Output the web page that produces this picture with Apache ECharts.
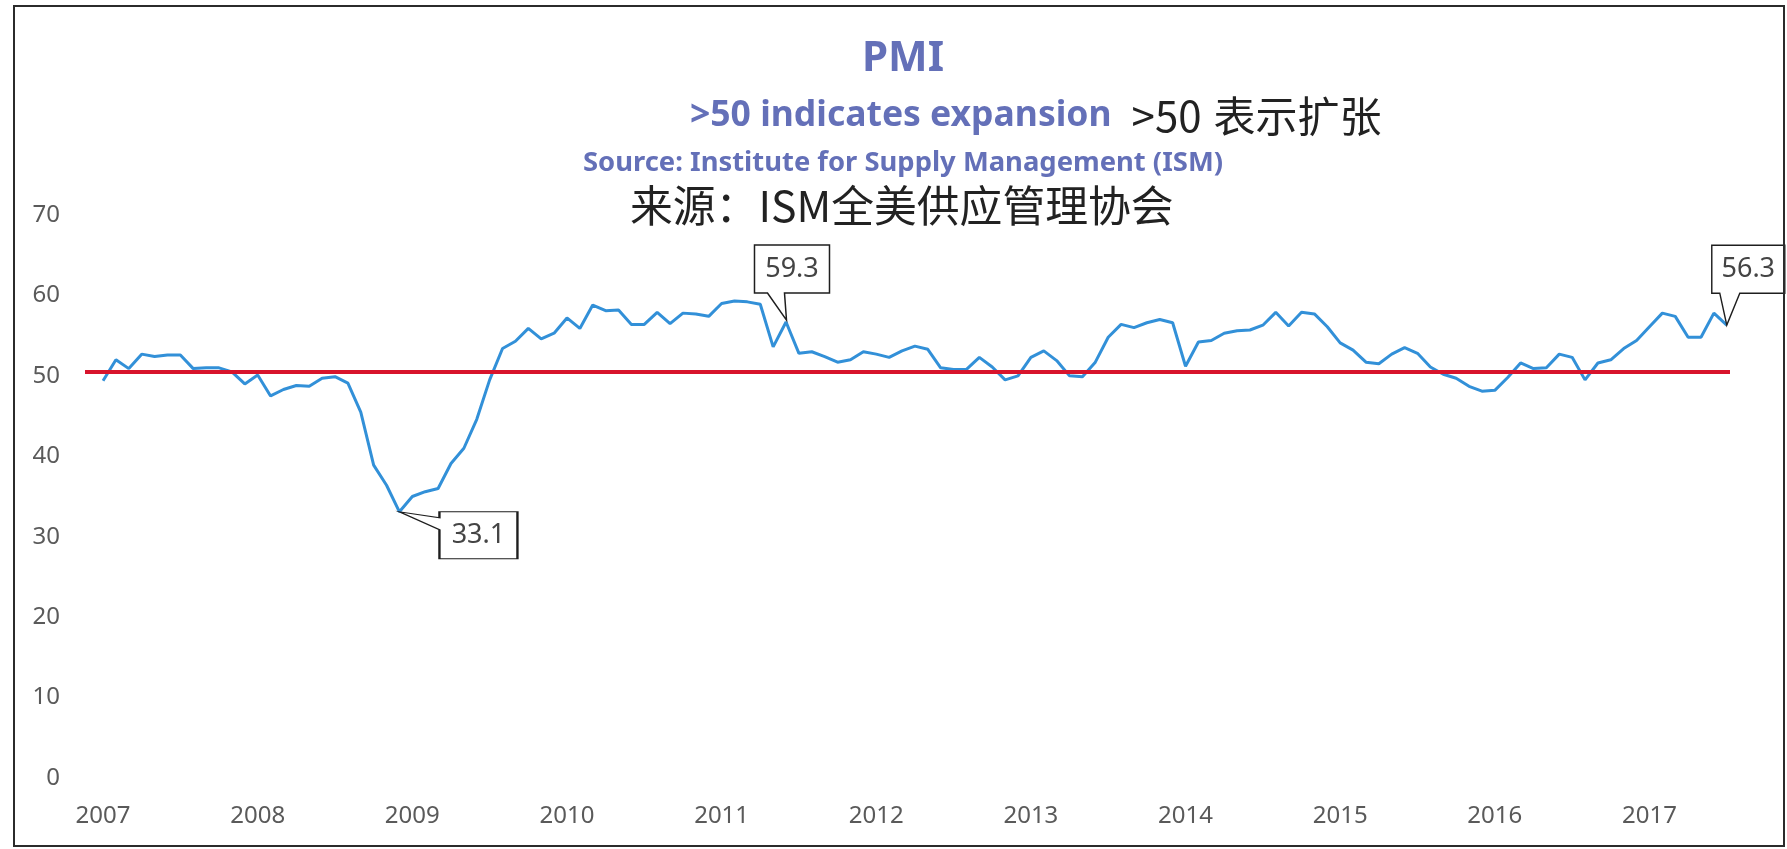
<!DOCTYPE html>
<html lang="zh-CN">
<head>
<meta charset="UTF-8">
<title>PMI</title>
<script src="https://cdn.jsdelivr.net/npm/echarts@6/dist/echarts.min.js"></script>
<style>
html, body { margin: 0; padding: 0; background: #fff; }
#chart { width: 1787px; height: 849px; }
/* 扫描图外框 */
.frame {
  position: absolute; left: 13px; top: 5px; width: 1772px; height: 842px;
  border: 2px solid #2b2b2b; box-sizing: border-box; pointer-events: none;
}
</style>
</head>
<body>
<div id="chart"></div>
<div class="frame"></div>
<script>
// 年份刻度（每年1月）
const yearLabels = ['2007', '2008', '2009', '2010', '2011', '2012', '2013', '2014', '2015', '2016', '2017'];
// ISM 制造业 PMI，2007年1月 - 2017年7月，每行一年
const pmi = [
  49.4, 52.0, 50.9, 52.7, 52.4, 52.6, 52.6, 50.9, 51.0, 51.0, 50.5, 49.0,
  50.1, 47.5, 48.3, 48.8, 48.7, 49.7, 49.9, 49.1, 45.5, 38.9, 36.4, 33.1,
  35.0, 35.6, 36.0, 39.1, 41.0, 44.6, 49.5, 53.4, 54.3, 55.9, 54.6, 55.3,
  57.2, 55.9, 58.8, 58.1, 58.2, 56.4, 56.4, 57.9, 56.5, 57.8, 57.7, 57.4,
  59.0, 59.3, 59.2, 58.9, 53.6, 56.7, 52.8, 53.0, 52.4, 51.7, 52.0, 53.0,
  52.7, 52.3, 53.1, 53.7, 53.3, 51.0, 50.8, 50.8, 52.3, 51.1, 49.5, 50.0,
  52.3, 53.1, 51.9, 50.0, 49.9, 51.7, 54.8, 56.4, 56.0, 56.6, 57.0, 56.6,
  51.2, 54.2, 54.4, 55.3, 55.6, 55.7, 56.3, 57.9, 56.2, 57.9, 57.7, 56.1,
  54.1, 53.2, 51.7, 51.5, 52.7, 53.5, 52.8, 51.1, 50.2, 49.7, 48.7, 48.1,
  48.2, 49.8, 51.6, 50.9, 51.0, 52.7, 52.3, 49.5, 51.6, 52.0, 53.4, 54.4,
  56.1, 57.8, 57.4, 54.8, 54.8, 57.8, 56.3
];
// 红线（50分界，图中略高于50刻度）
const expansionLine = 50.5;

const blue = '#6470b8';
const last = pmi.length - 1;
const lineData = pmi.map((v, i) => [i, v]);

// 标注框形状（含指针），按像素画
const lowPath = 'path://M40 0 L118 0 L118 47 L40 47 L40 18 L0 0 L40 6 Z';
const highPath = 'path://M0 0 L75 0 L75 48 L30 48 L32 75 L13 48 L0 48 Z';
const lastPath = 'path://M0 0 L73 0 L73 48 L28 48 L15 80 L8 48 L0 48 Z';

const chart = echarts.init(document.getElementById('chart'));
chart.setOption({
  animation: false,
  backgroundColor: '#fff',
  title: [
    {
      text: 'PMI', left: 903, top: 37, textAlign: 'center', padding: 0,
      textStyle: { color: blue, fontSize: 42, fontWeight: 'bold', fontFamily: 'Noto Sans', lineHeight: 44 }
    },
    {
      text: '{b|>50 indicates expansion}{g|}{k|>50}{w|}{k|表示扩张}', left: 690, top: 93, padding: 0,
      textStyle: {
        rich: {
          b: { color: blue, fontSize: 35.5, fontWeight: 'bold', fontFamily: 'Noto Sans', lineHeight: 46 },
          g: { width: 20, lineHeight: 46 },
          w: { width: 12, lineHeight: 46 },
          k: { color: '#222', fontSize: 42, fontWeight: 'normal', fontFamily: 'Noto Sans CJK SC', lineHeight: 46 }
        }
      }
    },
    {
      text: 'Source: Institute for Supply Management (ISM)', left: 583, top: 148, padding: 0,
      textStyle: { color: blue, fontSize: 27.4, fontWeight: 'bold', fontFamily: 'Noto Sans', lineHeight: 30 }
    },
    {
      text: '来源：ISM全美供应管理协会', left: 630, top: 183, padding: 0,
      textStyle: { color: '#222', fontSize: 42.8, fontWeight: 'normal', fontFamily: 'Noto Sans CJK SC', lineHeight: 46 }
    }
  ],
  grid: { left: 85, right: 57, top: 215, bottom: 71, outerBoundsMode: 'none' },
  xAxis: {
    type: 'value',
    min: -1.4,
    max: 126.25,
    axisLine: { show: false },
    axisTick: { show: false },
    splitLine: { show: false },
    axisLabel: {
      customValues: yearLabels.map((y, i) => i * 12),
      formatter: v => yearLabels[Math.round(v / 12)],
      color: '#5a5a5a', fontSize: 24, fontFamily: 'Noto Sans', margin: 26
    }
  },
  yAxis: {
    type: 'value',
    min: 0,
    max: 70,
    interval: 10,
    axisLine: { show: false },
    axisTick: { show: false },
    splitLine: { show: false },
    axisLabel: { color: '#5a5a5a', fontSize: 24, fontFamily: 'Noto Sans', margin: 25 }
  },
  series: [
    {
      name: 'PMI',
      type: 'line',
      data: lineData,
      showSymbol: false,
      lineStyle: { color: '#3290d8', width: 3 },
      markLine: {
        silent: true,
        symbol: 'none',
        label: { show: false },
        lineStyle: { color: '#d8142c', width: 4, type: 'solid' },
        data: [{ yAxis: expansionLine }]
      },
      markPoint: {
        silent: true,
        itemStyle: { color: '#fff', borderColor: '#1e1e1e', borderWidth: 1.5 },
        label: {
          show: true, position: 'inside', formatter: '{c}',
          color: '#444', fontSize: 27, fontFamily: 'Noto Sans'
        },
        data: [
          { type: 'min', valueDim: 'y', symbol: lowPath, symbolSize: [118, 47], symbolOffset: [59, 23.5], label: { offset: [20, 0] } },
          { type: 'max', valueDim: 'y', symbol: highPath, symbolSize: [75, 75], symbolOffset: [57.5, -18.5], label: { offset: [0, -13.5] } },
          { coord: [last, pmi[last]], value: pmi[last], symbol: lastPath, symbolSize: [73, 80], symbolOffset: [21.5, -40], label: { offset: [0, -16] } }
        ]
      }
    }
  ]
});
</script>
</body>
</html>
